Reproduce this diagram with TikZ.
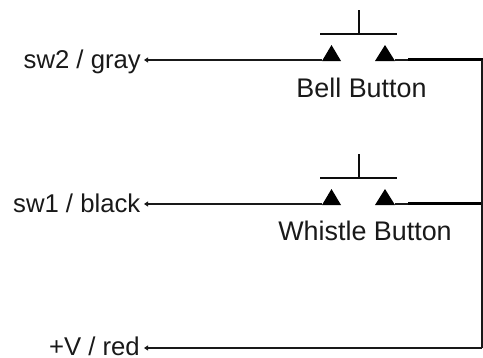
\documentclass[tikz,border=0pt]{standalone}
\usepackage{fontspec}
\setmainfont{Liberation Sans}
\usetikzlibrary{arrows.meta}
\tikzset{
  lbl/.style={inner sep=0pt,font=\fontsize{25.7bp}{30bp}\selectfont,text=black!90},
  btnlbl/.style={inner sep=0pt,font=\fontsize{26.9bp}{30bp}\selectfont,text=black!90},
  wire/.style={line width=1.6bp,draw=black!90},
  thickwire/.style={line width=2.6bp,draw=black},
  lead/.style={line width=2bp,draw=black!90,-{Stealth[length=4bp,width=5bp,inset=0pt]}},
  bar/.style={line width=2.4bp,draw=black!95},
  tri/.style={fill=black,draw=none}
}
\begin{document}
\begin{tikzpicture}[x=1bp,y=-1bp]
\useasboundingbox (0,0) rectangle (483,357);
% labels
\node[lbl,anchor=base east] (sw2) at (141,68.5) {sw2 / gray};
\node[lbl,anchor=base east] (sw1) at (140.5,212.5) {sw1 / black};
\node[lbl,anchor=base east] (pv) at (140,355) {+V / red};
\node[btnlbl,anchor=base] (bell) at (361.5,97) {Bell Button};
\node[btnlbl,anchor=base] (whistle) at (365,240) {Whistle Button};
% arrow targets
\coordinate (a2) at (144,60);
\coordinate (a1) at (144,204);
\coordinate (a0) at (144,348);
% button parts
\foreach \n/\y in {t/0,b/144}{
  \coordinate (\n sl) at (322,60+\y);
  \coordinate (\n sr) at (395,60+\y);
  \coordinate (\n o) at (482,60+\y);
  \draw[bar] (320,34+\y) -- (397,34+\y);
  \draw[bar] (359,34+\y) -- (359,10+\y);
  \fill[tri] (322,61+\y) -- (331.5,45+\y) -- (341,61+\y) -- cycle;
  \fill[tri] (375,61+\y) -- (385,45+\y) -- (395,61+\y) -- cycle;
  \draw[wire] (\n sr) -- (\n o);
  \draw[thickwire] (408,59.5+\y) -- (483,59.5+\y);
}
\coordinate (corner) at (482,348);
% wires
\draw[lead] (tsl) -- (a2);
\draw[lead] (bsl) -- (a1);
\draw[wire] (to) -- (corner);
\draw[lead] (corner) -- (a0);
\end{tikzpicture}
\end{document}
